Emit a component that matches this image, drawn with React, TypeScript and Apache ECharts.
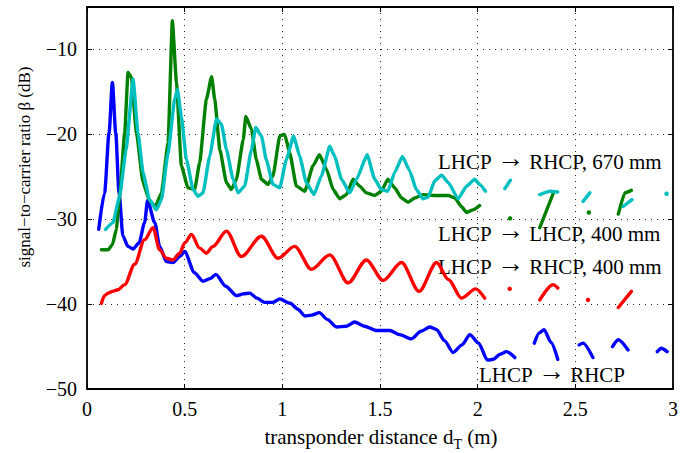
import React, { useEffect, useRef } from "react";
import * as echarts from "echarts";

type Pt = [number, number] | null;

// x axis: transponder distance (m); y axis: signal-to-carrier ratio (dB)
const xAxisMin = 0;
const xAxisMax = 3;
const xAxisStep = 0.5;
const yAxisMin = -50;
const yAxisMax = -5;
const yAxisStep = 10;

// LHCP -> RHCP (blue)
const blueRHCP: Pt[] = [
  [0.06, -31.2], [0.09, -26.9], [0.113, -19.8], [0.13, -13.9], [0.147, -19.8], [0.164, -26.9],
  [0.184, -32.0], [0.21, -33.2], [0.236, -33.5], [0.266, -32.8], [0.295, -30.4], [0.31, -27.8],
  [0.347, -30.4], [0.372, -33.2], [0.406, -35.0], [0.44, -35.1], [0.475, -34.4], [0.5, -33.8],
  [0.55, -36.3], [0.594, -37.3], [0.63, -37.0], [0.66, -36.5], [0.71, -37.9], [0.765, -39.0],
  [0.8, -38.8], [0.833, -38.7], [0.87, -39.3], [0.91, -39.8], [0.95, -39.8], [0.987, -39.4],
  [1.04, -39.9], [1.08, -40.6], [1.115, -41.4], [1.15, -41.3], [1.19, -41.0], [1.23, -41.8],
  [1.277, -42.7], [1.328, -42.6], [1.37, -42.1], [1.42, -42.6], [1.48, -43.1], [1.55, -43.1],
  [1.6, -43.6], [1.66, -44.1], [1.71, -43.2], [1.755, -42.7], [1.79, -43.0], [1.83, -44.3],
  [1.874, -45.7], [1.92, -44.8], [1.96, -43.6], [2.005, -44.6], [2.05, -46.6], [2.08, -46.5],
  [2.115, -45.9], [2.147, -45.6], [2.19, -46.3],
  null,
  [2.29, -44.6], [2.315, -43.4], [2.34, -43.0], [2.375, -44.5], [2.41, -46.5],
  null,
  [2.52, -44.8], [2.54, -44.6], [2.59, -46.3],
  null,
  [2.69, -45.0], [2.72, -44.2], [2.77, -45.4],
  null,
  [2.92, -45.6], [2.94, -45.2], [2.97, -45.6],
];

// LHCP -> RHCP, 400 mm (red)
const red400RHCP: Pt[] = [
  [0.074, -39.9], [0.09, -39.0], [0.108, -38.7], [0.13, -38.5], [0.159, -38.3], [0.193, -37.7],
  [0.244, -35.3], [0.295, -32.4], [0.338, -31.0], [0.372, -33.6], [0.406, -34.6], [0.44, -34.8],
  [0.475, -34.0], [0.5, -32.8], [0.535, -31.8], [0.577, -33.4], [0.611, -34.0], [0.645, -33.2],
  [0.714, -31.4], [0.79, -34.4], [0.893, -32.0], [0.978, -34.6], [1.063, -33.2], [1.149, -35.9],
  [1.243, -34.2], [1.337, -37.5], [1.43, -34.8], [1.516, -37.2], [1.61, -35.1], [1.7, -38.5],
  [1.79, -35.1], [1.85, -37.1], [1.917, -39.3], [1.99, -38.2], [2.036, -39.3],
  null,
  [2.164, -38.2],
  null,
  [2.318, -39.5], [2.386, -37.7], [2.41, -38.1],
  null,
  [2.565, -39.5],
  null,
  [2.72, -40.4], [2.787, -38.5],
];

// LHCP -> LHCP, 400 mm (green)
const green400LHCP: Pt[] = [
  [0.074, -33.6], [0.108, -33.6], [0.13, -33.0], [0.15, -31.2], [0.167, -27.3], [0.193, -19.8],
  [0.21, -12.7], [0.227, -13.3], [0.253, -19.8], [0.287, -25.7], [0.32, -27.8], [0.35, -28.5],
  [0.381, -26.9], [0.415, -21.0], [0.437, -6.6], [0.458, -13.9], [0.483, -23.7], [0.517, -26.3],
  [0.551, -26.5], [0.577, -23.3], [0.611, -15.9], [0.638, -13.2], [0.654, -15.9], [0.68, -21.8],
  [0.714, -25.7], [0.739, -26.5], [0.765, -25.3], [0.8, -20.6], [0.813, -17.9], [0.842, -19.4],
  [0.867, -23.0], [0.893, -25.3], [0.927, -25.9], [0.952, -24.9], [0.987, -20.2], [1.012, -20.0],
  [1.038, -22.2], [1.072, -26.1], [1.115, -26.7], [1.157, -23.7], [1.19, -22.4], [1.226, -24.1],
  [1.26, -26.5], [1.294, -27.6], [1.328, -27.1], [1.362, -25.3], [1.396, -26.1], [1.43, -26.9],
  [1.473, -27.2], [1.507, -26.7], [1.54, -25.3], [1.575, -26.3], [1.61, -27.5], [1.644, -28.0],
  [1.678, -27.5], [1.72, -27.1], [1.78, -27.2], [1.85, -27.2], [1.883, -27.5], [1.917, -28.5],
  [1.943, -29.2], [1.976, -28.9], [2.01, -28.4],
  null,
  [2.166, -29.9],
  null,
  [2.318, -31.0], [2.386, -27.0],
  null,
  [2.569, -29.2],
  null,
  [2.72, -29.4], [2.753, -26.9], [2.787, -26.6],
];

// LHCP -> RHCP, 670 mm (cyan)
const cyan670RHCP: Pt[] = [
  [0.095, -31.2], [0.133, -30.4], [0.167, -27.3], [0.2, -21.8], [0.236, -13.5], [0.261, -19.8],
  [0.287, -24.5], [0.32, -27.7], [0.355, -28.9], [0.381, -27.7], [0.415, -22.2], [0.449, -15.9],
  [0.463, -14.7], [0.483, -17.9], [0.509, -23.0], [0.543, -26.5], [0.568, -27.3], [0.594, -26.9],
  [0.628, -22.6], [0.663, -18.2], [0.688, -18.8], [0.714, -21.8], [0.748, -25.3], [0.773, -26.9],
  [0.807, -26.1], [0.842, -21.8], [0.864, -19.2], [0.893, -20.2], [0.918, -23.0], [0.952, -25.9],
  [0.987, -26.3], [1.02, -23.0], [1.058, -20.2], [1.089, -22.6], [1.123, -25.7], [1.162, -27.1],
  [1.2, -24.9], [1.243, -21.4], [1.268, -22.6], [1.303, -25.3], [1.345, -26.9], [1.38, -25.3],
  [1.434, -22.4], [1.473, -25.3], [1.507, -26.5], [1.54, -26.7], [1.575, -24.5], [1.615, -22.6],
  [1.652, -24.3], [1.686, -26.5], [1.72, -27.6], [1.746, -27.4], [1.78, -25.5], [1.815, -24.8],
  [1.85, -25.7], [1.9, -27.6], [1.943, -26.1], [1.985, -25.3], [2.01, -25.9], [2.04, -26.7],
  null,
  [2.139, -26.4], [2.168, -25.4],
  null,
  [2.318, -27.1], [2.37, -26.7], [2.41, -26.8],
  null,
  [2.54, -27.9], [2.574, -26.9],
  null,
  [2.745, -28.5], [2.79, -27.7],
  null,
  [2.967, -27.0],
];

// annotation labels: [from, to, suffix]
const annotations = [
  { from: "LHCP", to: "RHCP", suffix: ", 670 mm", x: 438, y: 162 },
  { from: "LHCP", to: "LHCP", suffix: ", 400 mm", x: 438, y: 234 },
  { from: "LHCP", to: "RHCP", suffix: ", 400 mm", x: 438, y: 267 },
  { from: "LHCP", to: "RHCP", suffix: "", x: 479, y: 375 },
];

const FONT = '"Liberation Serif", "Times New Roman", serif';

function buildData(pts: Pt[]) {
  const out: any[] = [];
  pts.forEach((p, i) => {
    if (p === null) {
      const prev = pts[i - 1];
      out.push([prev ? prev[0] + 0.001 : 0, "-"]);
      return;
    }
    const prev = i > 0 ? pts[i - 1] : null;
    const next = i < pts.length - 1 ? pts[i + 1] : null;
    if (prev === null && next === null) {
      out.push({ value: [p[0], p[1]], symbol: "circle", symbolSize: 4.5 });
    } else {
      out.push([p[0], p[1]]);
    }
  });
  return out;
}

function lineSeries(pts: Pt[], color: string, smooth: number) {
  return {
    type: "line",
    data: buildData(pts),
    symbol: "none",
    showSymbol: true,
    showAllSymbol: true,
    connectNulls: false,
    smooth,
    smoothMonotone: "x",
    itemStyle: { color },
    lineStyle: { color, width: 3.4, cap: "round", join: "round" },
    silent: true,
  };
}

export default function App() {
  const ref = useRef<HTMLDivElement>(null);
  useEffect(() => {
    if (!ref.current) return;
    const chart = echarts.init(ref.current, undefined, { renderer: "svg" });
    const minusFmt = (v: number) => (v === yAxisMax ? "" : String(v).replace("-", "\u2212"));
    const axisCommon = {
      type: "value",
      axisLine: { show: true, onZero: false, lineStyle: { color: "#000", width: 1.8 } },
      axisTick: { show: true, inside: true, length: 5, lineStyle: { color: "#000", width: 1 } },
    };
    const txt = { fontSize: 21, fontFamily: FONT, fill: "#000", lineHeight: 26, verticalAlign: "middle" };
    const arrow = {
      fontSize: 27,
      fontFamily: FONT,
      fill: "#000",
      lineHeight: 26,
      verticalAlign: "middle",
      padding: [0, 0, 9, 0],
    };
    chart.setOption({
      animation: false,
      backgroundColor: "#fff",
      grid: { left: 87, right: 21, top: 7, bottom: 64, containLabel: false, outerBoundsMode: "none" },
      xAxis: [
        {
          ...axisCommon,
          min: xAxisMin,
          max: xAxisMax,
          interval: xAxisStep,
          position: "bottom",
          axisLabel: { color: "#000", fontSize: 20, fontFamily: FONT, margin: 10 },
          splitLine: { show: true, lineStyle: { color: "#222", width: 1, type: [1, 5] } },
        },
        {
          ...axisCommon,
          min: xAxisMin,
          max: xAxisMax,
          interval: xAxisStep,
          position: "top",
          axisLabel: { show: false },
          splitLine: { show: false },
        },
      ],
      yAxis: [
        {
          ...axisCommon,
          min: yAxisMin,
          max: yAxisMax,
          interval: yAxisStep,
          position: "left",
          axisLabel: { color: "#000", fontSize: 20, fontFamily: FONT, margin: 10, formatter: minusFmt },
          splitLine: { show: true, lineStyle: { color: "#222", width: 1, type: [1, 5] } },
        },
        {
          ...axisCommon,
          min: yAxisMin,
          max: yAxisMax,
          interval: yAxisStep,
          position: "right",
          axisLabel: { show: false },
          splitLine: { show: false },
        },
      ],
      series: [
        lineSeries(blueRHCP, "#0000ff", 0.25),
        lineSeries(red400RHCP, "#ff0000", 0.3),
        lineSeries(green400LHCP, "#008000", 0.15),
        lineSeries(cyan670RHCP, "#00bfbf", 0.15),
      ],
      graphic: [
        ...annotations.map((a) => ({
          type: "text",
          x: a.x,
          y: a.y,
          silent: true,
          style: {
            text: `{t|${a.from} }{r|\u2192}{t| ${a.to}${a.suffix}}`,
            align: "left",
            verticalAlign: "middle",
            rich: { t: txt, r: arrow },
          },
        })),
        {
          type: "text",
          x: 24,
          y: 167,
          rotation: Math.PI / 2,
          silent: true,
          style: {
            text: "signal\u2212to\u2212carrier ratio \u03b2 (dB)",
            fill: "#000",
            fontSize: 17,
            fontFamily: FONT,
            align: "center",
            verticalAlign: "middle",
          },
        },
        {
          type: "text",
          x: 381,
          y: 437,
          silent: true,
          style: {
            text: "{a|transponder distance d}{s|T}{a| (m)}",
            align: "center",
            verticalAlign: "middle",
            rich: {
              a: { fontSize: 21, fontFamily: FONT, fill: "#000", lineHeight: 28, verticalAlign: "middle" },
              s: { fontSize: 14, fontFamily: FONT, fill: "#000", lineHeight: 14, verticalAlign: "bottom" },
            },
          },
        },
      ],
    });
    return () => chart.dispose();
  }, []);
  return (
    <div
      ref={ref}
      style={{ position: "absolute", left: 0, top: 0, width: 694, height: 453 }}
    />
  );
}
